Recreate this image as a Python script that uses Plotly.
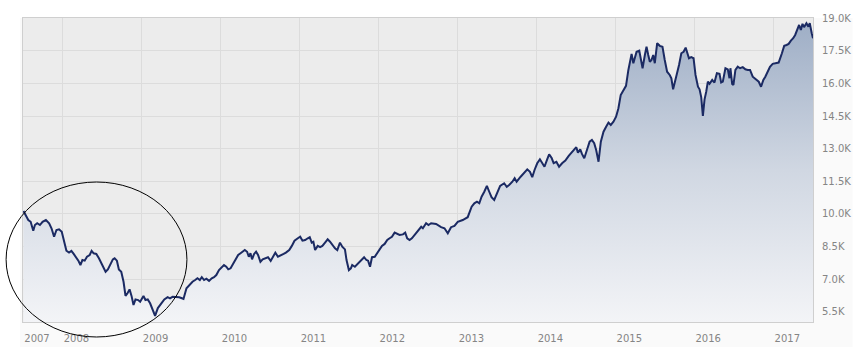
import pandas as pd
import plotly.graph_objects as go

# decimal-year time stamps and index values
years = [
    2007.506, 2007.567, 2007.597, 2007.630, 2007.651, 2007.680, 2007.714, 2007.748, 2007.790, 2007.831,
    2007.861, 2007.894, 2007.924, 2007.957, 2007.991, 2008.016, 2008.050, 2008.083, 2008.113, 2008.142,
    2008.167, 2008.201, 2008.227, 2008.252, 2008.281, 2008.310, 2008.344, 2008.369, 2008.394, 2008.428,
    2008.461, 2008.491, 2008.520, 2008.545, 2008.574, 2008.604, 2008.637, 2008.659, 2008.688, 2008.713,
    2008.743, 2008.772, 2008.797, 2008.822, 2008.848, 2008.873, 2008.898, 2008.923, 2008.957, 2008.982,
    2009.024, 2009.049, 2009.078, 2009.108, 2009.141, 2009.171, 2009.206, 2009.247, 2009.288, 2009.330,
    2009.360, 2009.393, 2009.436, 2009.477, 2009.511, 2009.531, 2009.569, 2009.603, 2009.645, 2009.679,
    2009.708, 2009.738, 2009.763, 2009.792, 2009.821, 2009.855, 2009.889, 2009.918, 2009.947, 2009.981,
    2010.015, 2010.044, 2010.073, 2010.098, 2010.128, 2010.157, 2010.191, 2010.224, 2010.254, 2010.283,
    2010.308, 2010.337, 2010.359, 2010.380, 2010.400, 2010.426, 2010.451, 2010.476, 2010.506, 2010.535,
    2010.569, 2010.602, 2010.636, 2010.661, 2010.695, 2010.728, 2010.758, 2010.800, 2010.829, 2010.871,
    2010.904, 2010.938, 2010.980, 2011.010, 2011.039, 2011.073, 2011.106, 2011.131, 2011.156, 2011.177,
    2011.199, 2011.232, 2011.262, 2011.291, 2011.325, 2011.358, 2011.388, 2011.417, 2011.451, 2011.480,
    2011.514, 2011.543, 2011.577, 2011.597, 2011.627, 2011.652, 2011.669, 2011.703, 2011.732, 2011.757,
    2011.786, 2011.820, 2011.849, 2011.870, 2011.895, 2011.920, 2011.955, 2011.987, 2012.017, 2012.046,
    2012.080, 2012.113, 2012.143, 2012.172, 2012.206, 2012.239, 2012.269, 2012.311, 2012.340, 2012.365,
    2012.395, 2012.424, 2012.458, 2012.500, 2012.542, 2012.563, 2012.604, 2012.634, 2012.667, 2012.730,
    2012.793, 2012.836, 2012.878, 2012.919, 2012.962, 2013.004, 2013.067, 2013.130, 2013.180, 2013.214,
    2013.247, 2013.277, 2013.306, 2013.340, 2013.373, 2013.403, 2013.432, 2013.466, 2013.498, 2013.541,
    2013.592, 2013.625, 2013.655, 2013.696, 2013.725, 2013.750, 2013.801, 2013.844, 2013.885, 2013.919,
    2013.948, 2013.977, 2014.011, 2014.045, 2014.074, 2014.103, 2014.137, 2014.162, 2014.194, 2014.219,
    2014.254, 2014.288, 2014.326, 2014.367, 2014.410, 2014.452, 2014.481, 2014.506, 2014.527, 2014.556,
    2014.578, 2014.607, 2014.641, 2014.675, 2014.704, 2014.733, 2014.758, 2014.788, 2014.817, 2014.851,
    2014.884, 2014.914, 2014.943, 2014.977, 2015.010, 2015.040, 2015.069, 2015.103, 2015.136, 2015.166,
    2015.186, 2015.207, 2015.229, 2015.249, 2015.270, 2015.304, 2015.321, 2015.346, 2015.375, 2015.396,
    2015.418, 2015.438, 2015.459, 2015.481, 2015.501, 2015.531, 2015.564, 2015.598, 2015.627, 2015.657,
    2015.690, 2015.711, 2015.733, 2015.765, 2015.808, 2015.837, 2015.866, 2015.892, 2015.909, 2015.934,
    2015.963, 2015.992, 2016.017, 2016.048, 2016.068, 2016.089, 2016.110, 2016.131, 2016.152, 2016.173,
    2016.194, 2016.228, 2016.256, 2016.287, 2016.320, 2016.341, 2016.362, 2016.395, 2016.425, 2016.446,
    2016.458, 2016.480, 2016.496, 2016.521, 2016.551, 2016.580, 2016.614, 2016.647, 2016.677, 2016.706,
    2016.740, 2016.782, 2016.816, 2016.845, 2016.874, 2016.899, 2016.929, 2016.958, 2016.992, 2017.025,
    2017.068, 2017.109, 2017.138, 2017.168, 2017.194, 2017.223, 2017.252, 2017.277, 2017.307, 2017.327,
    2017.349, 2017.370, 2017.390, 2017.420, 2017.445, 2017.462, 2017.487, 2017.503,
]

values = [
    10140, 9720, 9640, 9230, 9490, 9570, 9490, 9640, 9720, 9570,
    9340, 8950, 9260, 9290, 9180, 8800, 8310, 8220, 8300, 8160,
    8030, 7850, 7650, 7880, 7850, 8030, 8110, 8300, 8190, 8160,
    7960, 7730, 7500, 7340, 7450, 7700, 7910, 7960, 7850, 7450,
    7340, 6880, 6230, 6350, 6530, 6230, 5810, 6070, 6040, 5960,
    6230, 6040, 6070, 5890, 5580, 5310, 5670, 5890, 6070, 6170,
    6120, 6190, 6190, 6170, 6120, 6090, 6580, 6730, 6880, 6960,
    7040, 6960, 7090, 6960, 7020, 6920, 7040, 7090, 7190, 7420,
    7570, 7650, 7570, 7450, 7500, 7700, 7880, 8110, 8190, 8260,
    8340, 8260, 8030, 8190, 7910, 8160, 8260, 8110, 7800, 7910,
    7960, 8010, 7840, 8030, 8220, 8030, 8070, 8160, 8220, 8340,
    8530, 8770, 8880, 8950, 8770, 8800, 8880, 8930, 8680, 8720,
    8340, 8530, 8470, 8530, 8680, 8830, 8720, 8570, 8420, 8340,
    8680, 8490, 8370, 7880, 7420, 7500, 7650, 7570, 7680, 7800,
    7880, 8010, 7880, 7850, 7570, 8010, 8030, 8190, 8370, 8530,
    8620, 8800, 8880, 8950, 9140, 9080, 9030, 9060, 9140, 8880,
    8800, 8880, 9030, 9260, 9410, 9340, 9570, 9490, 9570, 9540,
    9390, 9340, 9110, 9390, 9450, 9640, 9720, 9850, 10330, 10490,
    10560, 10490, 10790, 11020, 11290, 11020, 10770, 10640, 10950, 11290,
    11410, 11250, 11330, 11480, 11640, 11480, 11710, 11900, 12050, 11940,
    11690, 12020, 12330, 12510, 12360, 12170, 12510, 12740, 12570, 12340,
    12400, 12170, 12330, 12450, 12670, 12860, 12970, 13070, 12820, 12970,
    12760, 12560, 12940, 13320, 13400, 13250, 12940, 12400, 13320, 13780,
    14010, 14200, 14090, 14240, 14470, 14860, 15470, 15700, 15890, 16620,
    17000, 17360, 16930, 17230, 17460, 17510, 17230, 16700, 17310, 17690,
    17310, 17000, 17080, 17310, 16930, 17850, 17730, 17690, 17080, 16540,
    16390, 16240, 15730, 16160, 16850, 17390, 17460, 17650, 17420, 17160,
    17210, 17160, 16390, 15850, 15730, 15370, 14510, 15270, 15620, 16080,
    15980, 16160, 16040, 16470, 16440, 16040, 16080, 16700, 16650, 16240,
    16700, 15980, 15930, 16620, 16770, 16700, 16750, 16650, 16620, 16620,
    16310, 16160, 16080, 15850, 16160, 16310, 16540, 16770, 16900, 16930,
    16960, 17390, 17730, 17770, 17820, 17970, 18080, 18230, 18460, 18690,
    18460, 18740, 18590, 18770, 18610, 18770, 18310, 18080,
]

x_start, x_end = 2007.5, 2017.503
tick_years = [2008, 2009, 2010, 2011, 2012, 2013, 2014, 2015, 2016, 2017]
first_label = "2007"
y_tickvals = [5500, 7000, 8500, 10000, 11500, 13000, 14500, 16000, 17500, 19000]
y_ticktext = ["5.5K", "7.0K", "8.5K", "10.0K", "11.5K", "13.0K", "14.5K", "16.0K", "17.5K", "19.0K"]
y_range = [5030, 19010]


def to_date(y):
    yr = int(y)
    s = pd.Timestamp(yr, 1, 1)
    e = pd.Timestamp(yr + 1, 1, 1)
    return s + (e - s) * (y - yr)


dates = [to_date(v) for v in years]

fig = go.Figure()
fig.add_trace(go.Scatter(
    x=dates, y=values, mode="lines",
    line=dict(color="#1b2a63", width=2),
    fill="tozeroy",
    fillgradient=dict(
        type="vertical",
        start=y_range[0], stop=y_range[1],
        colorscale=[[0, "#f3f4f7"], [0.5, "#d0d7e2"], [1, "#9dadc5"]],
    ),
    hoverinfo="skip",
))

xtickvals = [to_date(x_start)] + [pd.Timestamp(y, 1, 1) for y in tick_years]
xticktext = [first_label] + [str(y) for y in tick_years]

font = dict(family="DejaVu Sans, Verdana, sans-serif", size=10, color="#858585")

fig.update_layout(
    width=863, height=358,
    margin=dict(l=23, r=45, t=18, b=36),
    paper_bgcolor="#ffffff",
    plot_bgcolor="rgba(0,0,0,0)",
    showlegend=False,
    font=font,
    xaxis=dict(
        range=[to_date(x_start), to_date(x_end)],
        tickvals=xtickvals, ticktext=xticktext,
        ticklabelshift=14, ticklabelstandoff=7,
        showgrid=True, gridcolor="#dcdcdc", gridwidth=1,
        showline=True, linecolor="#cfcfcf", linewidth=1, mirror=True,
        ticks="", zeroline=False, tickfont=font,
    ),
    yaxis=dict(
        range=y_range, side="right",
        tickvals=y_tickvals, ticktext=y_ticktext,
        showgrid=True, gridcolor="#dcdcdc", gridwidth=1,
        showline=True, linecolor="#cfcfcf", linewidth=1, mirror=True,
        ticks="", ticklabelstandoff=6, zeroline=False, tickfont=font,
    ),
    shapes=[
        dict(type="rect", xref="paper", yref="paper", x0=-0.004, x1=1.05, y0=-0.082, y1=1.0,
             fillcolor="#fafafa", line=dict(width=0), layer="below"),
        dict(type="rect", xref="paper", yref="paper", x0=0, x1=1, y0=0, y1=1,
             fillcolor="#ececec", line=dict(width=0), layer="below"),
        dict(type="circle", xref="paper", yref="paper", x0=-0.0214, x1=0.2075, y0=-0.0493, y1=0.4605,
             line=dict(color="#000000", width=1), layer="above"),
    ],
)

fig.write_html(
    "out.html",
    config={"displayModeBar": False},
    post_script="document.body.style.margin='0';document.body.style.padding='0';",
)
